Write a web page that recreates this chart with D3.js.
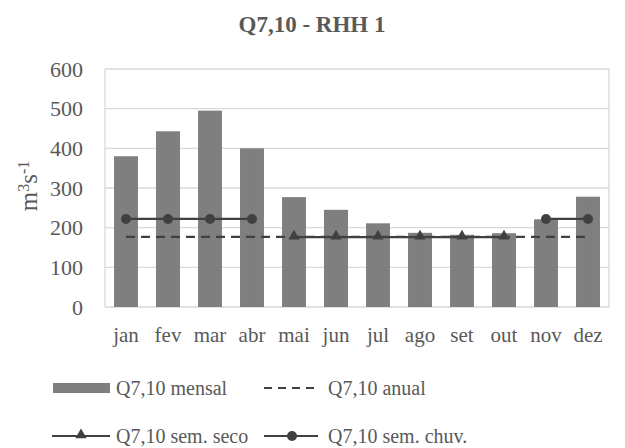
<!DOCTYPE html>
<html>
<head>
<meta charset="utf-8">
<script src="https://cdn.jsdelivr.net/npm/d3@7"></script>
<style>
body { margin: 0; background: #fff; }
text { font-family: "Liberation Serif", "Times New Roman", serif; fill: #595959; }
</style>
</head>
<body>
<div id="chart"></div>
<script>
var W = 625, H = 448;
var months = ['jan', 'fev', 'mar', 'abr', 'mai', 'jun', 'jul', 'ago', 'set', 'out', 'nov', 'dez'];
var mensal = [380, 443, 495, 400, 277, 245, 211, 187, 182, 186, 221, 278];
var anual = [177, 177, 177, 177, 177, 177, 177, 177, 177, 177, 177, 177];
var semSeco = [null, null, null, null, 176, 176, 176, 176, 176, 176, null, null];
var semChuv = [222, 222, 222, 222, null, null, null, null, null, null, 222, 222];
var yTicks = [0, 100, 200, 300, 400, 500, 600];

var margin = {left: 105, right: 16, top: 69, bottom: 141};
var pw = W - margin.left - margin.right, ph = H - margin.top - margin.bottom;

var svg = d3.select('#chart').append('svg')
	.attr('width', W).attr('height', H);

svg.append('text')
	.attr('x', 312).attr('y', 32)
	.attr('text-anchor', 'middle')
	.attr('font-size', '23px').attr('font-weight', 'bold')
	.text('Q7,10 - RHH 1');

var page = svg.append('g')
	.attr('transform', 'translate(' + margin.left + ',' + margin.top + ')');

var x = d3.scaleBand().domain(months).range([0, pw]).paddingInner(0.43).paddingOuter(0.215);
var y = d3.scaleLinear().domain([0, 600]).range([ph, 0]);

// gridlines + plot border
page.selectAll('.grid').data(yTicks).enter().append('line')
	.attr('x1', 0).attr('x2', pw)
	.attr('y1', function(d) { return y(d); })
	.attr('y2', function(d) { return y(d); })
	.attr('stroke', '#d9d9d9').attr('stroke-width', 1.3);
page.append('line').attr('x1', 0).attr('x2', 0).attr('y1', 0).attr('y2', ph)
	.attr('stroke', '#d9d9d9').attr('stroke-width', 1.3);
page.append('line').attr('x1', pw).attr('x2', pw).attr('y1', 0).attr('y2', ph)
	.attr('stroke', '#d9d9d9').attr('stroke-width', 1.3);

// y axis labels
var yAxis = d3.axisLeft(y).tickValues(yTicks).tickSize(0).tickPadding(22);
var gy = page.append('g').call(yAxis);
gy.select('.domain').remove();
gy.selectAll('text').attr('font-size', '22px').attr('font-family', '"Liberation Serif", serif').attr('fill', '#595959');

// x axis labels
var xAxis = d3.axisBottom(x).tickSize(0).tickPadding(20);
var gx = page.append('g').attr('transform', 'translate(0,' + ph + ')').call(xAxis);
gx.select('.domain').remove();
gx.selectAll('text').attr('font-size', '21px').attr('font-family', '"Liberation Serif", serif').attr('fill', '#595959');

// axis title
svg.append('text')
	.attr('transform', 'translate(37,' + (margin.top + ph / 2 - 2) + ') rotate(-90)')
	.attr('text-anchor', 'middle')
	.attr('font-size', '25px')
	.html('m<tspan baseline-shift="super" font-size="16px">3</tspan>s<tspan baseline-shift="super" font-size="16px">-1</tspan>');

// bars
page.selectAll('.bar').data(mensal).enter().append('rect')
	.attr('x', function(d, i) { return x(months[i]); })
	.attr('y', function(d) { return y(d); })
	.attr('width', x.bandwidth())
	.attr('height', function(d) { return ph - y(d); })
	.attr('fill', '#7f7f7f');

function cx(i) { return x(months[i]) + x.bandwidth() / 2; }

var line = d3.line()
	.defined(function(d) { return d != null; })
	.x(function(d, i) { return cx(i); })
	.y(function(d) { return y(d); });

page.append('path').datum(anual).attr('d', line)
	.attr('fill', 'none').attr('stroke', '#404040').attr('stroke-width', 2.2)
	.attr('stroke-dasharray', '9,6');

page.append('path').datum(semSeco).attr('d', line)
	.attr('fill', 'none').attr('stroke', '#404040').attr('stroke-width', 2.2);
page.append('path').datum(semChuv).attr('d', line)
	.attr('fill', 'none').attr('stroke', '#404040').attr('stroke-width', 2.2);

var tri = d3.symbol().type(d3.symbolTriangle).size(55);
page.selectAll('.tri').data(semSeco.map(function(d, i) { return {v: d, i: i}; })
	.filter(function(d) { return d.v != null; }))
	.enter().append('path')
	.attr('d', tri)
	.attr('transform', function(d) { return 'translate(' + cx(d.i) + ',' + (y(d.v) - 1) + ')'; })
	.attr('fill', '#404040');

page.selectAll('.dot').data(semChuv.map(function(d, i) { return {v: d, i: i}; })
	.filter(function(d) { return d.v != null; }))
	.enter().append('circle')
	.attr('cx', function(d) { return cx(d.i); })
	.attr('cy', function(d) { return y(d.v); })
	.attr('r', 5)
	.attr('fill', '#404040');

// legend
var leg = svg.append('g');
leg.append('rect').attr('x', 53).attr('y', 383).attr('width', 57).attr('height', 10).attr('fill', '#7f7f7f');
leg.append('text').attr('x', 116).attr('y', 395).attr('font-size', '20px').text('Q7,10 mensal');
leg.append('line').attr('x1', 264).attr('x2', 318).attr('y1', 388).attr('y2', 388)
	.attr('stroke', '#404040').attr('stroke-width', 2.2).attr('stroke-dasharray', '8,6');
leg.append('text').attr('x', 328).attr('y', 395).attr('font-size', '20px').text('Q7,10 anual');

leg.append('line').attr('x1', 52).attr('x2', 110).attr('y1', 436).attr('y2', 436)
	.attr('stroke', '#404040').attr('stroke-width', 2.2);
leg.append('path').attr('d', tri).attr('transform', 'translate(81,435)').attr('fill', '#404040');
leg.append('text').attr('x', 116).attr('y', 443).attr('font-size', '20px').text('Q7,10 sem. seco');
leg.append('line').attr('x1', 264).attr('x2', 318).attr('y1', 436).attr('y2', 436)
	.attr('stroke', '#404040').attr('stroke-width', 2.2);
leg.append('circle').attr('cx', 292).attr('cy', 436).attr('r', 5).attr('fill', '#404040');
leg.append('text').attr('x', 328).attr('y', 443).attr('font-size', '20px').text('Q7,10 sem. chuv.');
</script>
</body>
</html>
